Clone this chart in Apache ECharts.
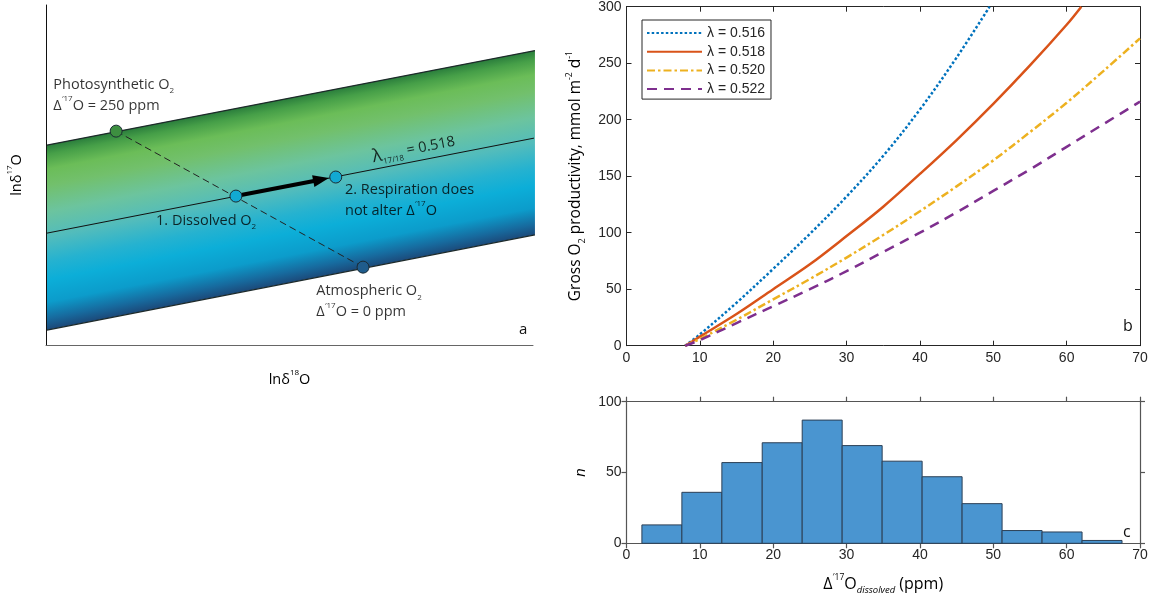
<!DOCTYPE html>
<html>
<head>
<meta charset="utf-8">
<script src="https://cdn.jsdelivr.net/npm/echarts@6/dist/echarts.min.js"></script>
<style>
  html, body { margin: 0; padding: 0; background: #fff; }
  #main { width: 1151px; height: 602px; }
</style>
</head>
<body>
<div id="main"></div>
<script>
// ---- panel a: schematic (arbitrary units, 0-100 on both axes)
const bandX = [0.2, 100.4];
const bandTop = [58.8, 86.6];
const bandMid = [32.9, 60.9];
const bandBot = [4.4, 32.4];
const pointX = [14.4, 39.0, 59.5, 65.1];
const pointY = [62.9, 43.8, 49.4, 22.9];
const pointColors = ["#3d8f40", "#12a9d2", "#12a9d2", "#1f5c8c"];
const arrowEnd = [58.1, 49.1];
const noteX = [1.6, 22.7, 61.5, 55.6, 75.6];
const noteY = [73.4, 36.5, 42.5, 12.6, 57.4];
const noteText = [
  "{t|Photosynthetic O}{sub|2}\n{t|Δ}{sup|′17}{t|O = 250 ppm}",
  "{t|1. Dissolved O}{sub|2}",
  "{t|2. Respiration does}\n{t|not alter Δ}{sup|′17}{t|O}",
  "{t|Atmospheric O}{sub|2}\n{t|Δ}{sup|′17}{t|O = 0 ppm}",
  "{lam|λ}{sub|17/18}{t| = 0.518}",
];

// ---- panel b: gross O2 productivity vs dissolved Δ'17O
const lambdas = ["λ = 0.516", "λ = 0.518", "λ = 0.520", "λ = 0.522"];
const d17_516 = [8, 10, 15, 20, 25, 30, 35, 40, 45, 49.5];
const gop_516 = [0, 10, 38, 68, 99, 132, 168, 209, 255, 300];
const d17_518 = [8, 10, 15, 20, 25, 30, 35, 40, 45, 50, 55, 60, 62];
const gop_518 = [0, 8, 28, 50, 72, 97, 123, 152, 182, 214, 248, 284, 300];
const d17_520 = [8, 10, 15, 20, 25, 30, 35, 40, 45, 50, 55, 60, 65, 70];
const gop_520 = [0, 6, 23, 41, 59, 78, 98, 119, 141, 164, 189, 215, 243, 272];
const d17_522 = [8, 10, 15, 20, 25, 30, 35, 40, 45, 50, 55, 60, 65, 70];
const gop_522 = [0, 5, 20, 35, 50, 66, 83, 100, 118, 137, 156, 176, 196, 216];

// ---- panel c: histogram of dissolved Δ'17O
const binEdges = [2.1, 7.55, 13.0, 18.5, 23.95, 29.4, 34.85, 40.3, 45.75, 51.2, 56.65, 62.1, 67.55];
const counts = [13, 36, 57, 71, 87, 69, 58, 47, 28, 9, 8, 2];

const txt = "#262626";
const sans = "Liberation Sans";
const hum = "Open Sans";
const ink = "#000";

const pairs = (xs, ys) => xs.map((x, i) => [x, ys[i]]);

const richA = {
  t: { fontFamily: hum, fontSize: 14.5, color: ink, lineHeight: 21 },
  sub: { fontFamily: hum, fontSize: 8, color: ink, lineHeight: 12, verticalAlign: "bottom" },
  sup: { fontFamily: hum, fontSize: 8, color: ink, lineHeight: 12, verticalAlign: "top" },
  lam: { fontFamily: hum, fontSize: 18, color: ink, lineHeight: 21 },
};

const bandStops = [
  { offset: 0, color: "#2a7d3c" },
  { offset: 0.05, color: "#469f48" },
  { offset: 0.13, color: "#6bbd58" },
  { offset: 0.22, color: "#72c06c" },
  { offset: 0.36, color: "#6cc49e" },
  { offset: 0.5, color: "#52bcbc" },
  { offset: 0.63, color: "#25b2d0" },
  { offset: 0.73, color: "#0caed8" },
  { offset: 0.85, color: "#0c9ccb" },
  { offset: 0.94, color: "#176a9e" },
  { offset: 1, color: "#1c4878" },
];

function renderBand(params, api) {
  const tl = api.coord([bandX[0], bandTop[0]]);
  const tr = api.coord([bandX[1], bandTop[1]]);
  const br = api.coord([bandX[1], bandBot[1]]);
  const bl = api.coord([bandX[0], bandBot[0]]);
  let dx = tr[0] - tl[0], dy = tr[1] - tl[1];
  const len = Math.hypot(dx, dy);
  dx /= len; dy /= len;
  const nx = -dy, ny = dx;
  const w = (bl[0] - tl[0]) * nx + (bl[1] - tl[1]) * ny;
  return {
    type: "polygon",
    shape: { points: [tl, tr, br, bl] },
    style: {
      fill: new echarts.graphic.LinearGradient(tl[0], tl[1], tl[0] + nx * w, tl[1] + ny * w, bandStops, true),
    },
  };
}

function renderArrow(params, api) {
  const a = api.coord([pointX[1], pointY[1]]);
  const b = api.coord(arrowEnd);
  let dx = b[0] - a[0], dy = b[1] - a[1];
  const len = Math.hypot(dx, dy);
  dx /= len; dy /= len;
  const head = 16, half = 6;
  const base = [b[0] - dx * head, b[1] - dy * head];
  return {
    type: "group",
    children: [
      { type: "line", shape: { x1: a[0], y1: a[1], x2: base[0] + dx * 2, y2: base[1] + dy * 2 },
        style: { stroke: "#000", lineWidth: 4 } },
      { type: "polygon",
        shape: { points: [b, [base[0] - dy * half, base[1] + dx * half], [base[0] + dy * half, base[1] - dx * half]] },
        style: { fill: "#000" } },
    ],
  };
}

function renderHist(params, api) {
  const p0 = api.coord([api.value(0), api.value(2)]);
  const p1 = api.coord([api.value(1), 0]);
  return {
    type: "rect",
    shape: { x: p0[0], y: p0[1], width: p1[0] - p0[0], height: p1[1] - p0[1] },
    style: { fill: "#4a95d0", stroke: "#2b3f55", lineWidth: 1 },
  };
}

const hidden = { show: false };

function boxAxis(grid, pos, min, max, interval, inside, labels, color, width) {
  return {
    type: "value", gridIndex: grid, position: pos, min: min, max: max, interval: interval,
    axisLine: { show: true, onZero: false, lineStyle: { color: color, width: width } },
    axisTick: { show: true, inside: inside, length: 5, lineStyle: { color: color, width: width } },
    axisLabel: labels ? { show: true, color: txt, fontFamily: sans, fontSize: 14, margin: 5 } : hidden,
    splitLine: hidden,
  };
}

const bStyles = [
  { color: "#0072bd", width: 2.5, type: [2.5, 2.2] },
  { color: "#d95319", width: 2.5, type: "solid" },
  { color: "#edb120", width: 2.5, type: [8, 3, 2.5, 3] },
  { color: "#7e2f8e", width: 2.5, type: [10, 7] },
];
const bData = [pairs(d17_516, gop_516), pairs(d17_518, gop_518), pairs(d17_520, gop_520), pairs(d17_522, gop_522)];

const option = {
  animation: false,
  backgroundColor: "#fff",
  grid: [
    { left: 46, top: 5, width: 487, height: 340, outerBoundsMode: "none" },
    { left: 626.5, top: 6.7, width: 513.5, height: 339, outerBoundsMode: "none" },
    { left: 626.5, top: 401.7, width: 513.5, height: 141.6, outerBoundsMode: "none" },
  ],
  legend: {
    data: lambdas, orient: "vertical", left: 642, top: 20,
    itemWidth: 55, itemHeight: 14, itemGap: 4.7,
    padding: [6, 6, 3, 4], borderColor: txt, borderWidth: 1, backgroundColor: "#fff",
    textStyle: { color: txt, fontFamily: sans, fontSize: 14 },
    itemStyle: { opacity: 0, borderWidth: 0 },
    selectedMode: false,
  },
  xAxis: [
    {
      type: "value", gridIndex: 0, min: 0, max: 100,
      axisLine: { show: true, onZero: false, lineStyle: { color: "#666", width: 1 } },
      axisTick: hidden, axisLabel: hidden, splitLine: hidden,
      name: "{t|lnδ}{sup|18}{t|O}", nameLocation: "middle", nameGap: 24,
      nameTextStyle: { rich: richA },
    },
    boxAxis(1, "bottom", 0, 70, 10, true, true, txt, 1),
    boxAxis(1, "top", 0, 70, 10, true, false, txt, 1),
    Object.assign(boxAxis(2, "bottom", 0, 70, 10, false, true, "#555", 1.2), {
      name: "{t|Δ}{sup|′17}{t|O}{subi|dissolved}{t| (ppm)}", nameLocation: "middle", nameGap: 30,
      nameTextStyle: { rich: {
        t: { fontFamily: hum, fontSize: 16, color: ink, lineHeight: 22 },
        sup: { fontFamily: hum, fontSize: 8.5, color: ink, lineHeight: 12, verticalAlign: "top" },
        subi: { fontFamily: hum, fontSize: 9.5, fontStyle: "italic", color: ink, lineHeight: 12, verticalAlign: "bottom" },
      } },
    }),
    boxAxis(2, "top", 0, 70, 10, false, false, "#555", 1.2),
  ],
  yAxis: [
    {
      type: "value", gridIndex: 0, min: 0, max: 100,
      axisLine: { show: true, onZero: false, lineStyle: { color: "#111", width: 1 } },
      axisTick: hidden, axisLabel: hidden, splitLine: hidden,
      name: "{t|lnδ}{sup|17}{t|O}", nameLocation: "middle", nameGap: 19,
      nameTextStyle: { rich: richA },
    },
    Object.assign(boxAxis(1, "left", 0, 300, 50, true, true, txt, 1), {
      name: "{t|Gross O}{sub|2}{t| productivity, mmol m}{sup|-2}{t| d}{sup|-1}",
      nameLocation: "middle", nameGap: 40,
      nameTextStyle: { rich: {
        t: { fontFamily: hum, fontSize: 15.5, color: ink, lineHeight: 21 },
        sub: { fontFamily: hum, fontSize: 9, color: ink, lineHeight: 12, verticalAlign: "bottom" },
        sup: { fontFamily: hum, fontSize: 8.5, color: ink, lineHeight: 12, verticalAlign: "top" },
      } },
    }),
    boxAxis(1, "right", 0, 300, 50, true, false, txt, 1),
    Object.assign(boxAxis(2, "left", 0, 100, 50, false, true, "#555", 1.2), {
      name: "n", nameLocation: "middle", nameGap: 38,
      nameTextStyle: { fontFamily: sans, fontSize: 15, fontStyle: "italic", color: ink },
    }),
    boxAxis(2, "right", 0, 100, 50, false, false, "#555", 1.2),
  ],
  series: [
    // panel a
    { type: "custom", xAxisIndex: 0, yAxisIndex: 0, data: [0], renderItem: renderBand, z: 1, silent: true },
    ...[bandTop, bandMid, bandBot].map((ys, i) => ({
      type: "line", xAxisIndex: 0, yAxisIndex: 0, data: pairs(bandX, ys), symbol: "none", z: 2,
      lineStyle: { color: i === 1 ? "#111" : "#1d2a2a", width: i === 1 ? 1 : 1.3 }, silent: true,
    })),
    {
      type: "line", xAxisIndex: 0, yAxisIndex: 0, symbol: "none", z: 2, silent: true,
      data: [[pointX[0], pointY[0]], [pointX[3], pointY[3]]],
      lineStyle: { color: "#222", width: 1, type: [7, 4] },
    },
    { type: "custom", xAxisIndex: 0, yAxisIndex: 0, data: [0], renderItem: renderArrow, z: 3, silent: true },
    {
      type: "scatter", xAxisIndex: 0, yAxisIndex: 0, symbolSize: 12, z: 4, silent: true,
      data: pointX.map((x, i) => ({ value: [x, pointY[i]], itemStyle: { color: pointColors[i] } })),
      itemStyle: { borderColor: "#1b2b33", borderWidth: 1, opacity: 1 },
    },
    {
      type: "scatter", xAxisIndex: 0, yAxisIndex: 0, symbolSize: 1, z: 5, silent: true,
      itemStyle: { color: "rgba(0,0,0,0)" },
      data: noteX.map((x, i) => ({
        value: [x, noteY[i]],
        label: {
          show: true, position: [0, 0], formatter: noteText[i], rich: richA, color: ink,
          align: i === 4 ? "center" : "left", verticalAlign: "middle", rotate: i === 4 ? 11 : 0,
        },
      })),
    },
    // panel b
    ...bData.map((d, i) => ({
      name: lambdas[i], type: "line", xAxisIndex: 1, yAxisIndex: 1, data: d,
      symbol: "none", showSymbol: false, smooth: 0.35, z: 3, lineStyle: bStyles[i], itemStyle: { color: bStyles[i].color },
    })),
    // panel c
    {
      type: "custom", xAxisIndex: 3, yAxisIndex: 3, renderItem: renderHist,
      encode: { x: [0, 1], y: 2 },
      data: counts.map((c, i) => [binEdges[i], binEdges[i + 1], c]),
    },
  ],
  graphic: [
    { type: "text", left: 519, top: 322, style: { text: "a", fontFamily: hum, fontSize: 15, fill: "#111" } },
    { type: "text", left: 1123, top: 318, style: { text: "b", fontFamily: hum, fontSize: 16, fill: "#111" } },
    { type: "text", left: 1123, top: 524, style: { text: "c", fontFamily: hum, fontSize: 16, fill: "#111" } },
  ],
};

const chart = echarts.init(document.getElementById("main"));
chart.setOption(option);
</script>
</body>
</html>
